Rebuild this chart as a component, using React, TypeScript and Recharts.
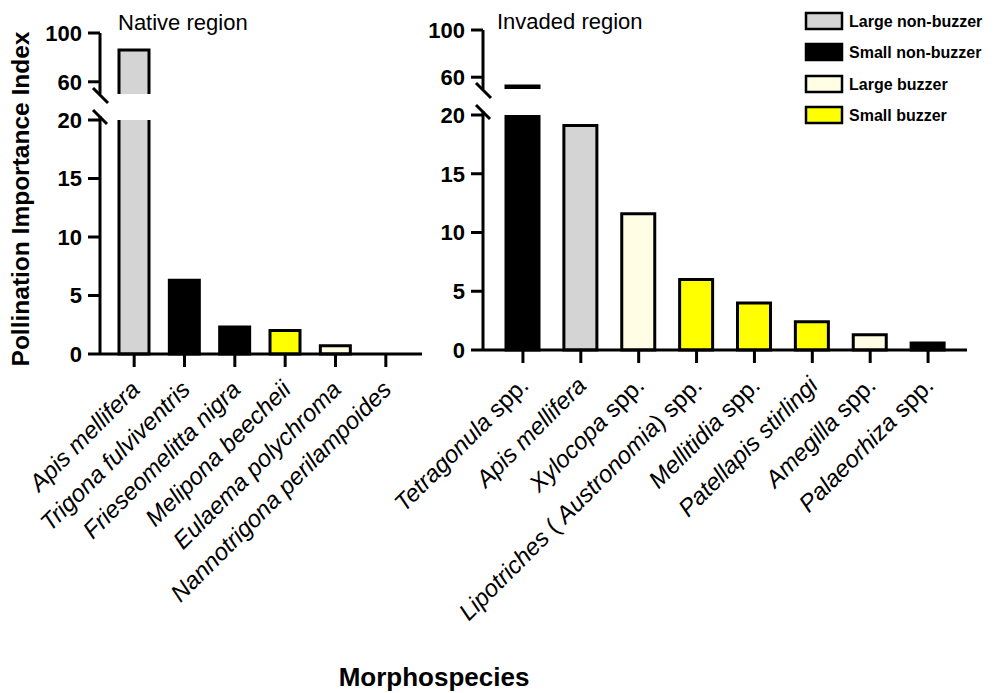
import { BarChart, Bar, XAxis, YAxis } from "recharts";

// Pollination Importance Index per morphospecies
const NATIVE_SPECIES = [
  "*Apis mellifera*",
  "*Trigona fulviventris*",
  "*Frieseomelitta nigra*",
  "*Melipona beecheii*",
  "*Eulaema polychroma*",
  "*Nannotrigona perilampoides*",
];
const NATIVE_PII = [86, 6.3, 2.3, 2.0, 0.7, 0];
const NATIVE_GROUP = [
  "Large non-buzzer",
  "Small non-buzzer",
  "Small non-buzzer",
  "Small buzzer",
  "Large buzzer",
  "Small non-buzzer",
];

const INVADED_SPECIES = [
  "*Tetragonula* spp.",
  "*Apis mellifera*",
  "*Xylocopa* spp.",
  "*Lipotriches* ( *Austronomia*) spp.",
  "*Mellitidia* spp.",
  "*Patellapis stirlingi*",
  "*Amegilla* spp.",
  "*Palaeorhiza* spp.",
];
const INVADED_PII = [52.5, 19.1, 11.6, 6.0, 4.0, 2.4, 1.3, 0.6];
const INVADED_GROUP = [
  "Small non-buzzer",
  "Large non-buzzer",
  "Large buzzer",
  "Small buzzer",
  "Small buzzer",
  "Small buzzer",
  "Large buzzer",
  "Small non-buzzer",
];

const GROUPS = ["Large non-buzzer", "Small non-buzzer", "Large buzzer", "Small buzzer"];
const GROUP_COLOR: Record<string, string> = {
  "Large non-buzzer": "#d4d4d4",
  "Small non-buzzer": "#000000",
  "Large buzzer": "#fffde3",
  "Small buzzer": "#ffff00",
};

// broken y axis: lower and upper segments
const LOWER_DOMAIN: [number, number] = [0, 20];
const LOWER_TICKS = [0, 5, 10, 15, 20];
const UPPER_DOMAIN: [number, number] = [50, 100];
const UPPER_TICKS = [60, 100];

const W = 994;
const H = 693;
const FONT = "'Liberation Sans', Arial, Helvetica, sans-serif";

const buildRows = (names: string[], vals: number[], groups: string[]) =>
  names.map((name, i) => ({
    name,
    group: groups[i],
    lower: Math.min(vals[i], LOWER_DOMAIN[1]),
    cut: vals[i] > LOWER_DOMAIN[1],
    upper: vals[i] >= UPPER_DOMAIN[0] ? vals[i] : null,
  }));

const nativeRows = buildRows(NATIVE_SPECIES, NATIVE_PII, NATIVE_GROUP);
const invadedRows = buildRows(INVADED_SPECIES, INVADED_PII, INVADED_GROUP);

// bar with open edge where the axis is broken
const makeShape = (part: "upper" | "lower") => (props: any) => {
  const { x, y, width, height, payload } = props;
  if (!height || height <= 0 || !width) return <g />;
  const l = x, r = x + width, t = y, b = y + height;
  let d = `M${l},${t} L${r},${t} L${r},${b} L${l},${b} Z`;
  if (part === "upper") d = `M${l},${b} L${l},${t} L${r},${t} L${r},${b}`;
  else if (payload.cut) d = `M${l},${t} L${l},${b} L${r},${b} L${r},${t}`;
  return (
    <g>
      <rect x={l} y={t} width={width} height={height} fill={GROUP_COLOR[payload.group]} />
      <path d={d} fill="none" stroke="#000" strokeWidth={3} />
    </g>
  );
};

const SpeciesTick = (props: any) => {
  const { x, y, payload } = props;
  const parts = String(payload.value).split("*");
  return (
    <text
      transform={`translate(${x + 7},${y + 22}) rotate(-45)`}
      textAnchor="end"
      fontSize={24}
      fill="#000"
      fontFamily={FONT}
    >
      {parts.map((p, i) =>
        p ? (
          <tspan key={i} fontStyle={i % 2 === 1 ? "italic" : "normal"}>
            {p}
          </tspan>
        ) : null
      )}
    </text>
  );
};

const yTick = { fill: "#000", fontSize: 22, fontWeight: 700, fontFamily: FONT };

type Panel = {
  rows: any[];
  left: number;
  right: number;
  lowerTop: number;
  lowerBottom: number;
  upperTop: number;
  upperBottom: number;
  barSize: number;
  pad: { left: number; right: number };
};

const PANELS: Panel[] = [
  { rows: nativeRows, left: 100, right: 422, lowerTop: 120, lowerBottom: 354, upperTop: 33, upperBottom: 94, barSize: 30, pad: { left: 9, right: 11 } },
  { rows: invadedRows, left: 483, right: 967, lowerTop: 115, lowerBottom: 350, upperTop: 30, upperBottom: 89, barSize: 33, pad: { left: 11, right: 10 } },
];

const layer: React.CSSProperties = { position: "absolute", left: 0, top: 0 };

function PanelCharts({ p }: { p: Panel }) {
  return (
    <>
      <div style={layer}>
        <BarChart
          width={W}
          height={H}
          data={p.rows}
          margin={{ left: p.left - 60, right: W - p.right, top: p.lowerTop, bottom: H - p.lowerBottom - 30 }}
        >
          <XAxis
            dataKey="name"
            interval={0}
            height={30}
            padding={p.pad}
            stroke="#000"
            strokeWidth={3}
            tickSize={13}
            tick={<SpeciesTick />}
          />
          <YAxis
            width={60}
            domain={LOWER_DOMAIN}
            ticks={LOWER_TICKS}
            interval={0}
            stroke="#000"
            strokeWidth={3}
            tickSize={12}
            tickMargin={6}
            tick={yTick}
          />
          <Bar dataKey="lower" barSize={p.barSize} isAnimationActive={false} shape={makeShape("lower")} />
        </BarChart>
      </div>
      <div style={layer}>
        <BarChart
          width={W}
          height={H}
          data={p.rows}
          margin={{ left: p.left - 60, right: W - p.right, top: p.upperTop, bottom: H - p.upperBottom }}
        >
          <XAxis dataKey="name" hide padding={p.pad} />
          <YAxis
            width={60}
            domain={UPPER_DOMAIN}
            ticks={UPPER_TICKS}
            interval={0}
            allowDataOverflow
            stroke="#000"
            strokeWidth={3}
            tickSize={12}
            tickMargin={6}
            tick={yTick}
          />
          <Bar dataKey="upper" barSize={p.barSize} isAnimationActive={false} shape={makeShape("upper")} />
        </BarChart>
      </div>
    </>
  );
}

function Decorations() {
  const breaks = PANELS.map((p) => p.left);
  return (
    <svg width={W} height={H} style={{ ...layer, pointerEvents: "none" }} fontFamily={FONT}>
      {breaks.map((ax, i) => {
        const up = PANELS[i].upperBottom;
        const lo = PANELS[i].lowerTop;
        return (
          <g key={i} stroke="#000" strokeWidth={3}>
            <line x1={ax - 7} y1={up - 6} x2={ax + 8} y2={up + 9} />
            <line x1={ax - 7} y1={lo - 10} x2={ax + 7} y2={lo + 4} />
            <line x1={ax} y1={lo - 4} x2={ax} y2={lo + 1} />
          </g>
        );
      })}
      <text x={118} y={30} fontSize={22} fill="#000">Native region</text>
      <text x={497} y={29} fontSize={22} fill="#000">Invaded region</text>
      <text
        transform="translate(29,199) rotate(-90)"
        textAnchor="middle"
        fontSize={24.5}
        fontWeight={700}
        fill="#000"
      >
        Pollination Importance Index
      </text>
      <text x={434} y={686} textAnchor="middle" fontSize={26} fontWeight={700} fill="#000">
        Morphospecies
      </text>
      {GROUPS.map((g, i) => {
        const top = [12, 43, 75, 106][i];
        return (
          <g key={g}>
            <rect x={806} y={top + 1} width={36} height={16} fill={GROUP_COLOR[g]} stroke="#000" strokeWidth={2.5} />
            <text x={849} y={top + 15} fontSize={16} fontWeight={700} fill="#000">
              {g}
            </text>
          </g>
        );
      })}
    </svg>
  );
}

export default function App() {
  return (
    <div style={{ position: "absolute", left: 0, top: 0, width: W, height: H, background: "#fff", fontFamily: FONT }}>
      {PANELS.map((p, i) => (
        <PanelCharts key={i} p={p} />
      ))}
      <Decorations />
    </div>
  );
}
